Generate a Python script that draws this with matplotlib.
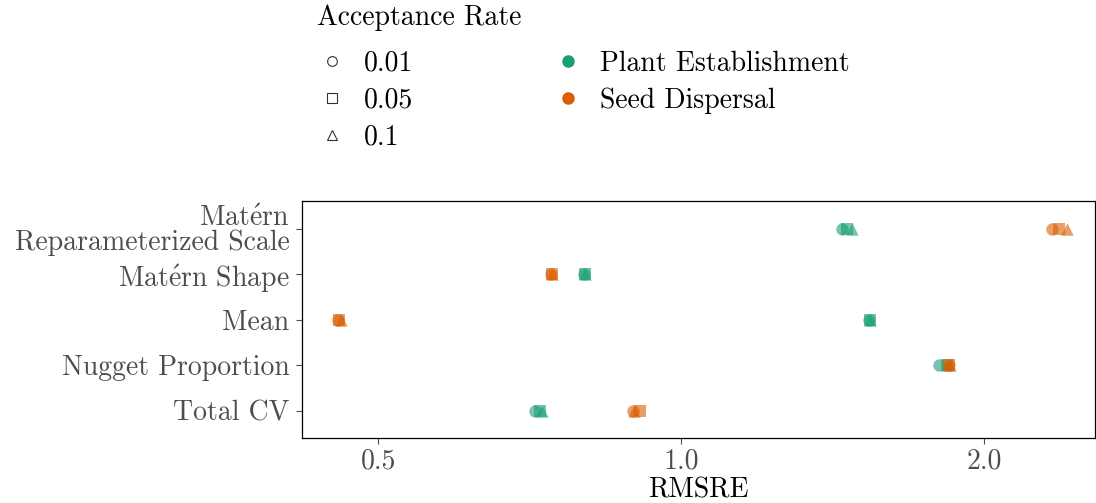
import numpy as np
import matplotlib
matplotlib.use("Agg")
import matplotlib.pyplot as plt
from matplotlib.lines import Line2D

plt.rcParams['font.family'] = 'serif'
plt.rcParams['font.serif'] = ['cmr10']
plt.rcParams['mathtext.fontset'] = 'cm'
plt.rcParams['axes.formatter.use_mathtext'] = True

# parameters (top to bottom on the y axis)
params = ['$\\mathrm{Mat\\acute{e}rn}$\nReparameterized Scale', '$\\mathrm{Mat\\acute{e}rn}$ Shape',
          'Mean', 'Nugget Proportion', 'Total CV']
rates = ['0.01', '0.05', '0.1']
groups = ['Plant Establishment', 'Seed Dispersal']

# RMSRE per parameter, one column per acceptance rate
rmsre_plant = [[1.445, 1.462, 1.480],
               [0.800, 0.802, 0.803],
               [1.538, 1.540, 1.542],
               [1.804, 1.836, 1.838],
               [0.716, 0.724, 0.728]]
rmsre_seed = [[2.337, 2.375, 2.420],
              [0.742, 0.744, 0.745],
              [0.456, 0.457, 0.459],
              [1.845, 1.848, 1.852],
              [0.896, 0.911, 0.898]]

colors = {'Plant Establishment': '#1B9E77', 'Seed Dispersal': '#D95F02'}
markers = {'0.01': 'o', '0.05': 's', '0.1': '^'}

fig = plt.figure(figsize=(10.96, 5.03), dpi=100)
ax = fig.add_axes([0.2755, 0.129, 0.7235, 0.471])

ypos = np.arange(1, len(params) + 1)
for grp, vals in zip(groups, [rmsre_plant, rmsre_seed]):
    vals = np.array(vals)
    for j, r in enumerate(rates):
        ax.scatter(vals[:, j], ypos, marker=markers[r], s=80, color=colors[grp],
                   alpha=0.6, linewidths=0, zorder=3)

ax.set_xscale('log', base=2)
ax.set_xlim(0.420, 2.578)
ax.set_xticks([0.5, 1.0, 2.0])
ax.set_xticklabels(['0.5', '1.0', '2.0'])
ax.minorticks_off()
ax.set_ylim(5.6, 0.4)
ax.set_yticks(ypos)
ax.set_yticklabels(params, linespacing=0.9)
ax.tick_params(axis='both', labelsize=20, colors='#4D4D4D', length=4, width=0.8)
ax.tick_params(axis='y', pad=5)
for s in ax.spines.values():
    s.set_linewidth(0.9)
ax.set_xlabel('RMSRE', fontsize=20, labelpad=2)

# legend: open shapes for rate, filled circles for group
handles = [Line2D([], [], ls='none', marker=markers[r], mfc='none', mec='#333333',
                  mew=0.8, ms=7) for r in rates]
handles += [Line2D([], [], ls='none', marker='o', color=colors[g], ms=8) for g in groups]
handles.append(Line2D([], [], ls='none'))
labels = rates + groups + ['']
leg = fig.legend(handles, labels, ncol=2, loc='upper left', bbox_to_anchor=(0.2715, 1.03),
                 frameon=False, fontsize=20, title='Acceptance Rate', title_fontsize=20,
                 alignment='left', handletextpad=0.6, labelspacing=0.38,
                 columnspacing=5.0, handlelength=1.1, borderaxespad=0.3)
leg._legend_box.sep = 14

fig.savefig('out.png', dpi=100)
